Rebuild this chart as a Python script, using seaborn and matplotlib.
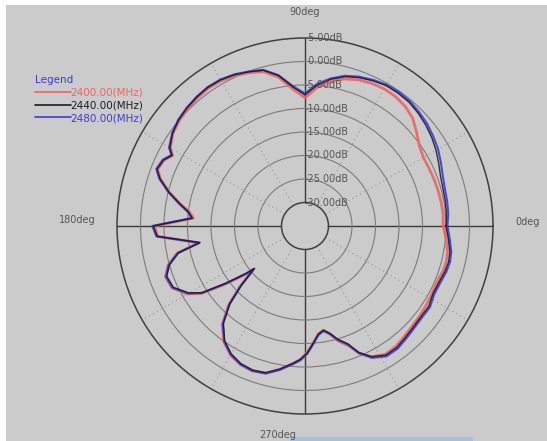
import matplotlib
matplotlib.use("Agg")
import matplotlib.pyplot as plt
import numpy as np
import pandas as pd
import seaborn as sns
from matplotlib.lines import Line2D
from matplotlib.patches import Rectangle

sns.set_style("white")
plt.rcParams["font.family"] = ["DejaVu Sans"]

# measured pattern, degrees / dB
ANGLES = [0, 5, 10, 15, 20, 25, 30, 35, 40, 45, 50, 55, 60, 65, 70, 75, 80, 85, 90,
          95, 100, 105, 110, 115, 120, 125, 130, 135, 140, 145, 150, 152, 155, 159,
          162, 166, 170, 173, 176, 180, 184, 189, 192, 196, 200, 205, 210, 213, 216,
          219, 220, 223, 226, 230, 235, 240, 245, 250, 255, 260, 265, 268, 271, 274,
          277, 280, 283, 286, 290, 293, 297, 302, 307, 312, 317, 322, 327, 332, 337,
          342, 346, 350, 355, 360]

GAIN_2400 = [-5.6, -5.5, -5.6, -5.7, -5.8, -5.9, -5.9, -5.3, -4.0, -2.6, -1.8, -1.4, -1.3,
             -1.5, -1.9, -2.6, -3.8, -5.4, -7.7, -5.8, -2.9, -1.0, -0.3, 0.3, 0.7, 0.8,
             0.6, 0.3, -0.1, -0.7, -1.9, -3.1, -1.9, -1.4, -2.7, -5.2, -8.1, -10.2,
             -11.2, -3.0, -3.6, -12.1, -7.2, -4.7, -3.4, -3.8, -6.1, -8.6, -13.9, -18.6,
             -20.6, -16.0, -11.6, -7.6, -4.9, -3.3, -2.5, -2.2, -2.6, -4.0, -5.6, -6.6,
             -8.1, -10.1, -11.9, -12.5, -11.4, -9.6, -7.9, -5.6, -3.8, -2.8, -2.9, -3.4,
             -3.8, -4.0, -4.2, -4.4, -4.5, -4.1, -4.0, -4.2, -4.9, -5.6]

GAIN_2440 = [-5.0, -4.8, -4.7, -4.6, -4.3, -3.6, -2.8, -2.1, -1.5, -1.0, -0.6, -0.5, -0.5,
             -0.9, -1.4, -2.1, -3.3, -4.9, -7.1, -5.3, -2.5, -0.7, -0.1, 0.5, 0.9, 1.0,
             0.8, 0.5, 0.1, -0.6, -1.8, -3.0, -1.8, -1.3, -2.6, -5.2, -8.0, -10.0,
             -11.0, -2.7, -3.5, -12.4, -7.5, -5.0, -3.7, -4.1, -6.5, -9.0, -14.4, -19.1,
             -21.0, -16.5, -12.0, -8.0, -5.2, -3.6, -2.7, -2.4, -2.7, -4.1, -5.7, -6.6,
             -8.0, -10.0, -11.8, -12.5, -11.6, -10.0, -8.3, -5.8, -3.8, -2.6, -2.6, -3.1,
             -3.5, -3.7, -3.6, -4.2, -4.1, -3.7, -3.5, -3.7, -4.4, -5.0]

GAIN_2480 = [-4.7, -4.4, -4.3, -4.2, -3.8, -3.1, -2.3, -1.7, -1.1, -0.7, -0.3, -0.2, -0.3,
             -0.7, -1.2, -1.9, -3.1, -4.6, -6.8, -5.1, -2.4, -0.6, 0.0, 0.6, 1.0, 1.1,
             0.9, 0.6, 0.2, -0.5, -1.6, -2.8, -1.6, -1.1, -2.4, -5.0, -7.8, -9.8,
             -10.8, -2.5, -3.3, -12.2, -7.3, -4.8, -3.5, -3.9, -6.3, -8.8, -14.2, -18.9,
             -20.8, -16.3, -11.8, -7.8, -5.0, -3.4, -2.5, -2.2, -2.5, -3.9, -5.5, -6.4,
             -7.8, -9.8, -11.6, -12.3, -11.4, -9.8, -8.1, -5.6, -3.5, -2.3, -2.3, -2.8,
             -3.2, -3.4, -3.3, -3.9, -3.8, -3.4, -3.2, -3.4, -4.1, -4.7]

FREQS = ["2400.00(MHz)", "2440.00(MHz)", "2480.00(MHz)"]
COLORS = ["#ee6464", "#1c1c24", "#3c3cd2"]
RINGS = [5, 0, -5, -10, -15, -20, -25, -30]

BG = "#cbcbcb"
W, H = 547, 441


def fx(x):
    return x / W


def fy(y):
    return 1 - y / H


rows = []
for freq, gains in zip(FREQS, [GAIN_2400, GAIN_2440, GAIN_2480]):
    for a, g in zip(ANGLES, gains):
        rows.append({"theta": np.deg2rad(a), "gain": g, "freq": freq})
df = pd.DataFrame(rows)

fig = plt.figure(figsize=(W / 100, H / 100), dpi=100, facecolor=BG)
# white strips on the top and left edge of the screenshot, blue bar at the bottom
fig.patches.append(Rectangle((0, fy(5)), 1, 1 - fy(5), transform=fig.transFigure,
                             facecolor="white", edgecolor="none", zorder=0))
fig.patches.append(Rectangle((0, 0), fx(6), 1, transform=fig.transFigure,
                             facecolor="white", edgecolor="none", zorder=0))
fig.patches.append(Rectangle((fx(290), 0), fx(183), fy(437), transform=fig.transFigure,
                             facecolor="#a9bedb", edgecolor="none", zorder=0))

ax = fig.add_axes([fx(117), fy(414), fx(376), 376 / H], projection="polar")
ax.set_facecolor(BG)
ax.set_rlim(-30, 5)
ax.set_rorigin(-35)

# red underneath (wider, shows as a pink halo), blue, then black on top
for freq, color, lw in [(FREQS[0], COLORS[0], 2.0), (FREQS[2], COLORS[2], 1.5),
                        (FREQS[1], COLORS[1], 1.0)]:
    sns.lineplot(data=df[df["freq"] == freq], x="theta", y="gain", color=color,
                 sort=False, estimator=None, linewidth=lw, alpha=0.9, ax=ax)
ax.set_xlabel("")
ax.set_ylabel("")

# rings (solid) and dotted spokes
ax.set_rgrids(RINGS[1:-1], labels=[""] * (len(RINGS) - 2))
ax.set_thetagrids(np.arange(0, 360, 30), labels=[""] * 12)
for gl in ax.yaxis.get_gridlines():
    gl.set_color("#7c7c7c")
    gl.set_linestyle("-")
    gl.set_linewidth(0.8)
for i, gl in enumerate(ax.xaxis.get_gridlines()):
    if i % 3 == 0:
        gl.set_color("#3a3a3a")
        gl.set_linestyle("-")
        gl.set_linewidth(1.0)
    else:
        gl.set_color("#959595")
        gl.set_linestyle((0, (1, 3)))
        gl.set_linewidth(0.8)
ax.tick_params(length=0)
for name in ("polar", "inner"):
    ax.spines[name].set_color("#404040")
    ax.spines[name].set_linewidth(1.1)

for r in RINGS:
    ax.text(np.pi / 2, r, f" {r:.2f}dB" if r >= 0 else f"{r:.2f}dB", ha="left", va="center",
            fontsize=7, color="#555555", transform=ax.transData)

fig.text(fx(305), fy(12), "90deg", ha="center", va="center", fontsize=7, color="#555555")
fig.text(fx(528), fy(222), "0deg", ha="center", va="center", fontsize=7, color="#555555")
fig.text(fx(77), fy(220), "180deg", ha="center", va="center", fontsize=7, color="#555555")
fig.text(fx(278), fy(435), "270deg", ha="center", va="center", fontsize=7, color="#555555")

handles = [Line2D([], [], color=c, lw=1.2) for c in COLORS]
leg = fig.legend(handles, FREQS, title="Legend", loc="upper left",
                 bbox_to_anchor=(fx(28), fy(68)), frameon=False, fontsize=7.5,
                 title_fontsize=7.5, handlelength=3.4, handletextpad=0.0,
                 labelspacing=0.25, alignment="left", labelcolor=COLORS,
                 borderpad=0.2)
leg.get_title().set_color("#3c3cd2")

fig.savefig("out.png", dpi=100, facecolor=BG)
